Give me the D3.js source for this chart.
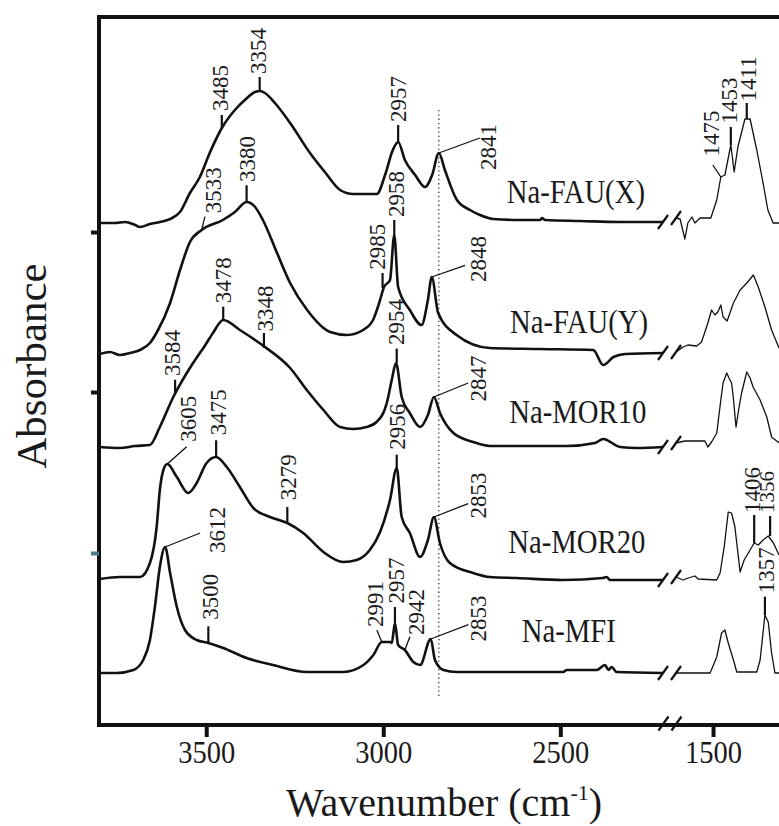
<!DOCTYPE html>
<html><head><meta charset="utf-8">
<script src="https://cdn.jsdelivr.net/npm/d3@7"></script>
<style>
body{margin:0;background:#fff}
svg{display:block}
text{font-family:"Liberation Serif","Times New Roman",serif;fill:#1a1a1a}
</style></head><body>
<svg id="c" width="779" height="826"></svg>
<script>
// ---------- DATA (wavenumber cm-1, absorbance a.u.) ----------
const xTicksLeft = [3500, 3000, 2500];
const xTicksRight = [1500];
const yTicks = [1.71, 3.32, 4.92];
const sampleNames = ["Na-FAU(X)", "Na-FAU(Y)", "Na-MOR10", "Na-MOR20", "Na-MFI"];

const fauXLeft = [[3800,5.01],[3758,5.01],[3729,5.02],[3701,4.99],[3687,4.97],[3659,5.00],[3631,5.02],[3602,5.05],[3574,5.12],[3546,5.31],[3518,5.47],[3489,5.72],[3456,5.96],[3419,6.14],[3391,6.24],[3362,6.32],[3348,6.33],[3334,6.31],[3306,6.21],[3263,6.01],[3207,5.71],[3165,5.52],[3122,5.34],[3085,5.30],[3018,5.30],[2995,5.49],[2973,5.74],[2958,5.82],[2939,5.64],[2910,5.49],[2882,5.37],[2862,5.49],[2843,5.71],[2826,5.54],[2792,5.24],[2755,5.14],[2727,5.09],[2690,5.05],[2614,5.04],[2557,5.04],[2552,5.06],[2543,5.04],[2444,5.03],[2331,5.02],[2210,5.02]];
const fauXRight = [[1600,5.06],[1589,5.05],[1576,4.85],[1568,5.01],[1557,5.07],[1549,5.01],[1535,5.06],[1506,5.06],[1490,5.24],[1479,5.47],[1468,5.49],[1452,5.79],[1443,5.52],[1433,5.77],[1414,6.05],[1400,6.05],[1382,5.74],[1365,5.41],[1352,5.14],[1338,5.01],[1322,5.01]];

const fauYLeft = [[3800,3.70],[3772,3.72],[3744,3.69],[3715,3.71],[3687,3.74],[3659,3.81],[3639,3.92],[3602,4.21],[3574,4.54],[3546,4.82],[3513,4.94],[3453,5.04],[3419,5.12],[3386,5.22],[3362,5.17],[3340,5.04],[3300,4.71],[3263,4.41],[3215,4.14],[3150,3.92],[3102,3.89],[3057,3.94],[3029,4.04],[3009,4.24],[2998,4.37],[2981,4.44],[2969,4.89],[2958,4.37],[2925,4.14],[2892,3.99],[2874,4.24],[2863,4.47],[2845,4.11],[2793,3.89],[2699,3.76],[2557,3.75],[2407,3.74],[2379,3.59],[2350,3.67],[2317,3.70],[2210,3.71]];
const fauYRight = [[1600,3.72],[1581,3.77],[1568,3.79],[1544,3.78],[1531,3.82],[1514,4.01],[1504,4.14],[1495,4.09],[1487,4.12],[1479,4.19],[1473,4.07],[1462,4.03],[1445,4.21],[1427,4.34],[1409,4.41],[1391,4.49],[1378,4.37],[1360,4.17],[1342,3.94],[1322,3.76]];

const mor10Left = [[3800,2.77],[3744,2.76],[3701,2.78],[3659,2.79],[3631,2.97],[3593,3.27],[3555,3.51],[3518,3.71],[3508,3.76],[3481,3.91],[3452,4.04],[3405,3.94],[3334,3.77],[3263,3.56],[3216,3.34],[3169,3.14],[3122,2.97],[3085,2.95],[3047,2.97],[3019,3.02],[2990,3.21],[2976,3.44],[2964,3.61],[2948,3.27],[2925,3.11],[2896,2.97],[2874,3.09],[2857,3.27],[2840,3.11],[2802,2.91],[2746,2.82],[2699,2.78],[2482,2.78],[2402,2.81],[2379,2.85],[2331,2.77],[2284,2.76],[2210,2.77]];
const mor10Right = [[1600,2.81],[1576,2.83],[1522,2.83],[1514,2.77],[1504,2.82],[1490,2.91],[1479,3.24],[1473,3.41],[1463,3.51],[1457,3.46],[1450,3.41],[1446,3.29],[1438,2.97],[1431,3.14],[1423,3.31],[1409,3.52],[1400,3.46],[1392,3.37],[1373,3.24],[1355,3.07],[1342,2.87],[1325,2.82],[1322,2.82]];

const mor20Left = [[3800,1.45],[3744,1.47],[3687,1.47],[3659,1.61],[3640,1.97],[3631,2.34],[3621,2.54],[3610,2.60],[3583,2.47],[3551,2.31],[3527,2.41],[3499,2.61],[3472,2.67],[3442,2.57],[3405,2.37],[3367,2.16],[3320,2.07],[3271,2.01],[3226,1.91],[3169,1.72],[3113,1.62],[3075,1.64],[3038,1.74],[3009,1.92],[2981,2.24],[2962,2.56],[2948,2.07],[2925,1.91],[2896,1.67],[2874,1.84],[2857,2.07],[2840,1.81],[2812,1.61],[2746,1.51],[2699,1.47],[2624,1.46],[2492,1.44],[2380,1.46],[2369,1.47],[2360,1.44],[2210,1.44]];
const mor20Right = [[1600,1.47],[1581,1.44],[1567,1.46],[1549,1.48],[1540,1.45],[1490,1.44],[1481,1.51],[1470,1.77],[1459,2.12],[1450,2.11],[1441,1.97],[1427,1.52],[1416,1.64],[1400,1.74],[1389,1.81],[1378,1.79],[1365,1.84],[1351,1.88],[1337,1.81],[1322,1.69]];

const mfiLeft = [[3800,0.51],[3753,0.51],[3706,0.54],[3678,0.64],[3659,0.84],[3645,1.17],[3631,1.57],[3616,1.77],[3602,1.51],[3583,1.17],[3560,0.94],[3527,0.84],[3494,0.81],[3452,0.76],[3386,0.66],[3311,0.59],[3216,0.52],[3113,0.52],[3056,0.59],[3028,0.69],[3004,0.82],[2981,0.82],[2976,0.81],[2967,1.01],[2958,0.79],[2939,0.74],[2915,0.62],[2896,0.59],[2866,0.85],[2854,0.64],[2830,0.54],[2793,0.52],[2492,0.52],[2482,0.54],[2397,0.54],[2374,0.59],[2364,0.54],[2355,0.57],[2341,0.52],[2210,0.51]];
const mfiRight = [[1600,0.51],[1508,0.51],[1490,0.67],[1477,0.91],[1468,0.94],[1459,0.81],[1445,0.64],[1436,0.52],[1382,0.52],[1373,0.64],[1360,1.09],[1351,1.02],[1342,0.71],[1333,0.51],[1322,0.51]];

const spectraLeft = [fauXLeft, fauYLeft, mor10Left, mor20Left, mfiLeft];
const spectraRight = [fauXRight, fauYRight, mor10Right, mor20Right, mfiRight];

// peak labels: text, wavenumber, absorbance at the marked point, segment
const peakText = ["3485","3354","2957","2841","1475","1453","1411",
  "3533","3380","2985","2958","2848",
  "3584","3478","3348","2954","2847",
  "3605","3475","3279","2956","2853","1406","1356",
  "3612","3500","2991","2957","2942","2853","1357"];
const peakWave = [3456,3349,2958,2843,1479,1452,1409,
  3513,3386,3002,2969,2863,
  3588,3452,3337,2962,2857,
  3610,3472,3271,2962,2857,1389,1346,
  3616,3494,3004,2967,2939,2866,1360];
const peakAbs = [5.96,6.33,5.82,5.71,5.47,5.79,6.05,
  4.94,5.22,4.36,4.89,4.47,
  3.31,4.04,3.76,3.61,3.27,
  2.60,2.67,2.01,2.56,2.07,1.81,1.88,
  1.77,0.81,0.82,1.01,0.74,0.85,1.09];
const peakSeg = ["L","L","L","L","R","R","R",
  "L","L","L","L","L",
  "L","L","L","L","L",
  "L","L","L","L","L","R","R",
  "L","L","L","L","L","L","R"];
const refLine = 2843;          // dotted reference line
const sampleLabelWave = [2651, 2642, 2644, 2647, 2609];
const sampleLabelAbs  = [5.21, 3.91, 3.01, 1.71, 0.82];

// ---------- LAYOUT (pixel offsets of leaders / texts, label sizes) ----------
const leader = [[0,-13],[0,-14],[0,-17],[41,-15],[-8,-12],[0,-18],[0,-16],
  [3.3,-13.3],[0,-16.7],[0,-15],[0,-15],[33.3,-11.7],
  [0,-13.3],[0,-13.3],[0,-15],[0,-14.4],[34.3,-14],
  [19.4,-17.3],[0,-16.7],[0,-16],[0,-13.3],[34.3,-13.4],[0,-28],[0,-20],
  [35,-14],[0,-16.7],[-5,-11.7],[0,-16],[5,-13.3],[37.6,-14.3],[0,-18.3]];
const textPos = [[-2,-17],[-2,-17],[0,-20],[49,17],[-9.5,-20.5],[-2,-21.5],[1.5,-17.5],
  [11.6,-16.7],[0,-20],[-5.4,-18.3],[1.7,-18],[46,5],
  [-3,-17],[-0.6,-16.7],[1,-16.6],[-0.7,-18],[44.3,4.4],
  [21,-22.3],[1.7,-21.7],[1,-22.7],[0,-18.3],[44.3,1.6],[-2.5,-30],[-3,-23],
  [51.7,6],[2,-23.3],[-6.7,-15],[0.8,-19.4],[10.8,-15],[47.6,2.4],[0.8,-21.7]];
const peakFont = peakText.map((t, i) => i === 23 ? 21 : 23);

// ---------- SCALES ----------
const W = 779, H = 826;
const xL = d3.scaleLinear().domain([3800, 2210]).range([100, 663]);
const xR = d3.scaleLinear().domain([1600, 1322]).range([676, 779]);
const y = d3.scaleLinear().domain([0, 7.06]).range([724, 18]);
const axisY = 725, axisX = 99, topY = 17;

const svg = d3.select("#c");
svg.append("rect").attr("width", W).attr("height", H).attr("fill", "#fff");

// dotted reference line
svg.append("line").attr("x1", xL(refLine)).attr("x2", xL(refLine))
  .attr("y1", 110).attr("y2", 696)
  .attr("stroke", "#111").attr("stroke-width", 1.1).attr("stroke-dasharray", "1.3,3");

// spectra
const lineL = d3.line().x(d => xL(d[0])).y(d => y(d[1])).curve(d3.curveMonotoneX);
const lineR = d3.line().x(d => xR(d[0])).y(d => y(d[1]));
const gS = svg.append("g");
gS.selectAll("path.l").data(spectraLeft).join("path").attr("class","l")
  .attr("d", lineL).attr("fill","none").attr("stroke","#111")
  .attr("stroke-width",2.6).attr("stroke-linejoin","round");
gS.selectAll("path.r").data(spectraRight).join("path").attr("class","r")
  .attr("d", lineR).attr("fill","none").attr("stroke","#111")
  .attr("stroke-width",1.3).attr("stroke-linejoin","round");

// break marks on spectra
function slash(g, cx, cy, w) {
  g.append("line").attr("x1", cx-5).attr("y1", cy+7).attr("x2", cx+5).attr("y2", cy-7)
    .attr("stroke","#111").attr("stroke-width", w);
}
spectraLeft.forEach((s, i) => {
  const e = s[s.length-1], b = spectraRight[i][0];
  slash(gS, xL(e[0]), y(e[1]), 2.2);
  slash(gS, xR(b[0]), y(b[1]), 2.2);
});

// peak annotations
const gA = svg.append("g");
peakText.forEach((t, i) => {
  const sx = peakSeg[i] === "L" ? xL : xR;
  const ax = sx(peakWave[i]), ay = y(peakAbs[i]);
  const l = leader[i], p = textPos[i];
  const vertical = l[0] === 0;
  gA.append("line").attr("x1", ax).attr("y1", ay).attr("x2", ax + l[0]).attr("y2", ay + l[1])
    .attr("stroke","#111").attr("stroke-width", vertical ? 2.2 : 1.3);
  gA.append("text").attr("transform", `translate(${ax + p[0]},${ay + p[1]}) rotate(-90)`)
    .attr("dy","0.35em").attr("font-size", peakFont[i]).text(t);
});

// sample names
sampleNames.forEach((n, i) => {
  svg.append("text")
    .attr("transform", `translate(${xL(sampleLabelWave[i])},${y(sampleLabelAbs[i])}) scale(0.87,1)`)
    .attr("font-size", 33).text(n);
});

// frame
svg.append("line").attr("x1", axisX).attr("x2", axisX).attr("y1", topY-2).attr("y2", axisY+2)
  .attr("stroke","#111").attr("stroke-width",4);
svg.append("line").attr("x1", axisX-2).attr("x2", W).attr("y1", topY).attr("y2", topY)
  .attr("stroke","#111").attr("stroke-width",4);
svg.append("line").attr("x1", axisX-2).attr("x2", W).attr("y1", axisY).attr("y2", axisY)
  .attr("stroke","#111").attr("stroke-width",4);

// x axis ticks
function styleAxis(g) {
  g.select(".domain").remove();
  g.selectAll(".tick line").attr("stroke","#111").attr("stroke-width",4);
  g.selectAll(".tick text").attr("font-size",31).attr("fill","#1a1a1a")
    .attr("font-family",'"Liberation Serif","Times New Roman",serif')
    .attr("transform","scale(0.92,1)");
}
svg.append("g").attr("transform",`translate(0,${axisY})`)
  .call(d3.axisBottom(xL).tickValues(xTicksLeft).tickSize(12).tickPadding(4).tickFormat(d3.format("d")))
  .call(styleAxis);
svg.append("g").attr("transform",`translate(0,${axisY})`)
  .call(d3.axisBottom(xR).tickValues(xTicksRight).tickSize(12).tickPadding(4).tickFormat(d3.format("d")))
  .call(styleAxis);
// axis break
slash(svg, 663.5, 723.5, 2.2);
slash(svg, 676.5, 723.5, 2.2);

// y axis ticks (unlabelled)
const gy = svg.append("g").attr("transform",`translate(${axisX},0)`)
  .call(d3.axisLeft(y).tickValues(yTicks).tickSize(8).tickFormat(""));
gy.select(".domain").remove();
gy.selectAll(".tick line").attr("stroke-width",4)
  .attr("stroke",(d,i)=> i === 0 ? "#4d7c84" : "#111");

// axis titles
svg.append("text").attr("transform","translate(46,366) rotate(-90)")
  .attr("text-anchor","middle").attr("font-size",43).text("Absorbance");
const xt = svg.append("text").attr("x",286).attr("y",816).attr("font-size",40);
xt.append("tspan").text("Wavenumber (cm");
xt.append("tspan").attr("font-size",22).attr("dy",-16).text("-1");
xt.append("tspan").attr("dy",16).text(")");
</script>
</body></html>
